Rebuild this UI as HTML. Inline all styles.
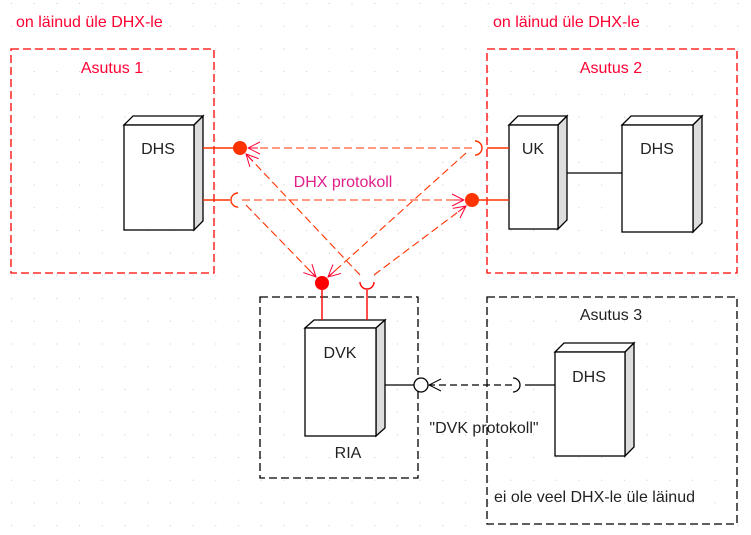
<!DOCTYPE html>
<html><head><meta charset="utf-8"><style>
html,body{margin:0;padding:0;background:#fff}
svg{display:block}
text{font-family:"Liberation Sans",sans-serif}
</style></head><body>
<svg width="751" height="535" viewBox="0 0 751 535" xmlns="http://www.w3.org/2000/svg">
<defs>
<pattern id="g" x="11" y="3" width="22.7" height="22.7" patternUnits="userSpaceOnUse">
<rect x="0" y="0" width="1" height="1" fill="#c8c8c8"/>
</pattern>
<marker id="ar" markerWidth="14" markerHeight="14" refX="13" refY="7" orient="auto" markerUnits="userSpaceOnUse">
<path d="M1,1 L13,7 L1,13 M3,7 L13,7" fill="none" stroke="#f03" stroke-width="1"/>
</marker>
<marker id="ak" markerWidth="14" markerHeight="14" refX="13" refY="7" orient="auto" markerUnits="userSpaceOnUse">
<path d="M1,1 L13,7 L1,13" fill="none" stroke="#000" stroke-width="1"/>
</marker>
</defs>
<rect width="751" height="535" fill="url(#g)"/>

<!-- group boxes -->
<g fill="none" stroke-dasharray="8,4" stroke-width="1.3">
<rect x="11" y="49" width="203" height="224" stroke="#f00"/>
<rect x="487" y="49" width="250" height="224" stroke="#f00"/>
<rect x="260" y="297" width="158" height="181" stroke="#000"/>
<rect x="487" y="297" width="250" height="227" stroke="#000"/>
</g>

<g font-size="16">
<text x="16" y="27" fill="#f03">on läinud üle DHX-le</text>
<text x="493" y="27" fill="#f03">on läinud üle DHX-le</text>
<text x="112" y="73" fill="#f03" text-anchor="middle">Asutus 1</text>
<text x="611" y="73" fill="#f03" text-anchor="middle">Asutus 2</text>
<text x="611" y="320" fill="#222" text-anchor="middle">Asutus 3</text>
<text x="343" y="187" fill="#e0208a" text-anchor="middle">DHX protokoll</text>
<text x="484" y="433" fill="#222" text-anchor="middle">"DVK protokoll"</text>
<text x="348" y="458" fill="#222" text-anchor="middle">RIA</text>
<text x="494" y="502" fill="#222">ei ole veel DHX-le üle läinud</text>
</g>

<!-- nodes -->
<g stroke="#000" stroke-width="1.3">
<!-- DHS1 -->
<path d="M124,125 L133,116 L203,116 L194,125 Z" fill="#fff"/>
<path d="M194,125 L203,116 L203,221 L194,230 Z" fill="#ddd"/>
<rect x="124" y="125" width="70" height="105" fill="#fff"/>
<!-- UK -->
<path d="M509,125 L518,116 L567,116 L558,125 Z" fill="#fff"/>
<path d="M558,125 L567,116 L567,220 L558,229 Z" fill="#ddd"/>
<rect x="509" y="125" width="49" height="104" fill="#fff"/>
<!-- DHS2 -->
<path d="M622,125 L631,116 L702,116 L693,125 Z" fill="#fff"/>
<path d="M693,125 L702,116 L702,223 L693,232 Z" fill="#ddd"/>
<rect x="622" y="125" width="71" height="107" fill="#fff"/>
<!-- DVK -->
<path d="M305,328 L314,320 L385,320 L376,328 Z" fill="#fff"/>
<path d="M376,328 L385,320 L385,428 L376,436 Z" fill="#ddd"/>
<rect x="305" y="328" width="71" height="108" fill="#fff"/>
<!-- DHS3 -->
<path d="M555,352 L564,343 L634,343 L625,352 Z" fill="#fff"/>
<path d="M625,352 L634,343 L634,447 L625,456 Z" fill="#ddd"/>
<rect x="555" y="352" width="70" height="104" fill="#fff"/>
<line x1="567" y1="173" x2="622" y2="173"/>
<line x1="385" y1="385" x2="414" y2="385"/>
<line x1="525" y1="385" x2="555" y2="385"/>
<circle cx="421" cy="385" r="7" fill="#fff"/>
<path d="M513,378 A7,7 0 0 1 513,392" fill="none"/>
</g>
<g font-size="16" fill="#222" text-anchor="middle">
<text x="158" y="154">DHS</text>
<text x="533" y="154">UK</text>
<text x="657" y="154">DHS</text>
<text x="340" y="358">DVK</text>
<text x="589" y="382">DHS</text>
</g>

<!-- black dashed dependency -->
<line x1="512" y1="385" x2="429" y2="385" stroke="#000" stroke-width="1.2" stroke-dasharray="7,4" marker-end="url(#ak)"/>

<!-- red interfaces -->
<g stroke="#f30" stroke-width="1.4" fill="none">
<line x1="203" y1="148" x2="234" y2="148"/>
<line x1="203" y1="200" x2="230" y2="200"/>
<path d="M238,193 A7,7 0 0 0 238,207"/>
<line x1="487" y1="148" x2="509" y2="148"/>
<line x1="478" y1="200" x2="509" y2="200"/>
<path d="M475,141 A7,7 0 0 1 475,155"/>
</g>
<circle cx="240" cy="148" r="7" fill="#f30"/>
<circle cx="472" cy="200" r="7" fill="#f30"/>
<g stroke="#f00" stroke-width="1.4" fill="none">
<line x1="322" y1="290" x2="322" y2="320"/>
<line x1="367" y1="290" x2="367" y2="320"/>
<path d="M360,282 A7,7 0 0 0 374,282"/>
</g>
<circle cx="322" cy="283" r="7" fill="#f00"/>

<!-- red dashed dependencies -->
<g stroke="#f30" stroke-width="1.1" stroke-dasharray="8,4" fill="none" marker-end="url(#ar)">
<line x1="472" y1="148" x2="248" y2="148"/>
<line x1="242" y1="200" x2="464" y2="200"/>
<line x1="360" y1="275" x2="246" y2="154"/>
<line x1="246" y1="205" x2="316" y2="277"/>
<line x1="466" y1="153" x2="328" y2="277"/>
<line x1="374" y1="275" x2="466" y2="206"/>
</g>
</svg>
</body></html>
